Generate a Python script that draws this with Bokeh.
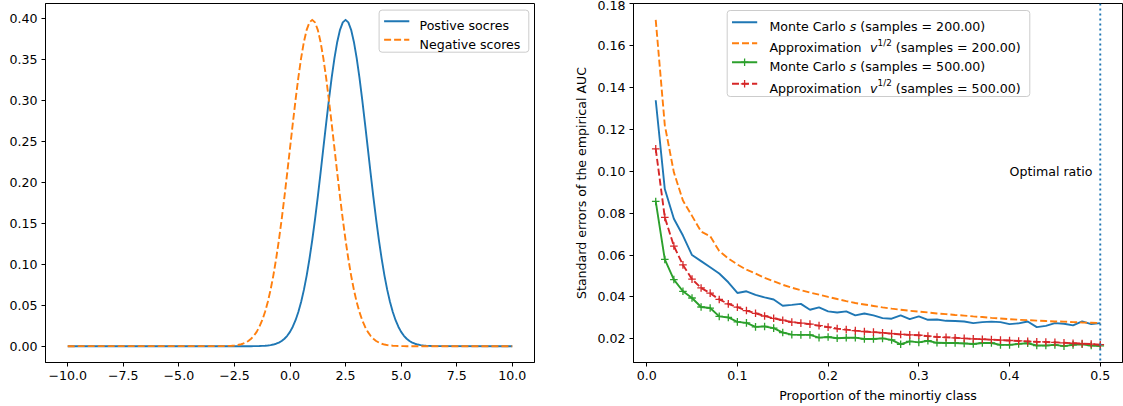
from bokeh.plotting import figure
from bokeh.layouts import row
from bokeh.models import Range1d, FixedTicker, Span, Label, BoxAnnotation
from bokeh.embed import file_html
from bokeh.resources import INLINE

# ---------------- data: left panel (score densities) ----------------
score_x = [-10.0,
           -3.0, -2.875, -2.75, -2.625, -2.5, -2.375, -2.25, -2.125,
           -2.0, -1.875, -1.75, -1.625, -1.5, -1.375, -1.25, -1.125,
           -1.0, -0.875, -0.75, -0.625, -0.5, -0.375, -0.25, -0.125,
           0.0, 0.125, 0.25, 0.375, 0.5, 0.625, 0.75, 0.875,
           1.0, 1.125, 1.25, 1.375, 1.5, 1.625, 1.75, 1.875,
           2.0, 2.125, 2.25, 2.375, 2.5, 2.625, 2.75, 2.875,
           3.0, 3.125, 3.25, 3.375, 3.5, 3.625, 3.75, 3.875,
           4.0, 4.125, 4.25, 4.375, 4.5, 4.625, 4.75, 4.875,
           5.0, 5.125, 5.25, 5.375, 5.5, 5.625, 5.75, 5.875,
           6.0, 6.125, 6.25, 6.375, 6.5,
           10.0]
positive_density = [0.0,
                    0.0, 0.0, 0.0, 0.0, 0.0, 0.0, 0.0, 0.0,
                    0.0, 0.0, 0.0, 0.0001, 0.0001, 0.0002, 0.0004, 0.0006,
                    0.0009, 0.0013, 0.0020, 0.0030, 0.0044, 0.0064, 0.0091, 0.0127,
                    0.0175, 0.0238, 0.0317, 0.0417, 0.0540, 0.0688, 0.0863, 0.1066,
                    0.1295, 0.1550, 0.1826, 0.2119, 0.2420, 0.2720, 0.3011, 0.3282,
                    0.3521, 0.3719, 0.3867, 0.3958, 0.3989, 0.3958, 0.3867, 0.3719,
                    0.3521, 0.3282, 0.3011, 0.2720, 0.2420, 0.2119, 0.1826, 0.1550,
                    0.1295, 0.1066, 0.0863, 0.0688, 0.0540, 0.0417, 0.0317, 0.0238,
                    0.0175, 0.0127, 0.0091, 0.0064, 0.0044, 0.0030, 0.0020, 0.0013,
                    0.0009, 0.0006, 0.0004, 0.0002, 0.0001,
                    0.0]
negative_density = [0.0,
                    0.0001, 0.0002, 0.0004, 0.0006, 0.0009, 0.0013, 0.0020, 0.0030,
                    0.0044, 0.0064, 0.0091, 0.0127, 0.0175, 0.0238, 0.0317, 0.0417,
                    0.0540, 0.0688, 0.0863, 0.1066, 0.1295, 0.1550, 0.1826, 0.2119,
                    0.2420, 0.2720, 0.3011, 0.3282, 0.3521, 0.3719, 0.3867, 0.3958,
                    0.3989, 0.3958, 0.3867, 0.3719, 0.3521, 0.3282, 0.3011, 0.2720,
                    0.2420, 0.2119, 0.1826, 0.1550, 0.1295, 0.1066, 0.0863, 0.0688,
                    0.0540, 0.0417, 0.0317, 0.0238, 0.0175, 0.0127, 0.0091, 0.0064,
                    0.0044, 0.0030, 0.0020, 0.0013, 0.0009, 0.0006, 0.0004, 0.0002,
                    0.0001, 0.0001, 0.0, 0.0, 0.0, 0.0, 0.0, 0.0,
                    0.0, 0.0, 0.0, 0.0, 0.0,
                    0.0]
left_names = ["Postive socres", "Negative scores"]
left_xticks = [-10.0, -7.5, -5.0, -2.5, 0.0, 2.5, 5.0, 7.5, 10.0]
left_xlabels = ["\u221210.0", "\u22127.5", "\u22125.0", "\u22122.5", "0.0", "2.5", "5.0", "7.5", "10.0"]
left_yticks = [0.0, 0.05, 0.10, 0.15, 0.20, 0.25, 0.30, 0.35, 0.40]
left_ylabels = ["0.00", "0.05", "0.10", "0.15", "0.20", "0.25", "0.30", "0.35", "0.40"]

# ---------------- data: right panel (standard errors) ----------------
proportion = [0.01, 0.02, 0.03, 0.04, 0.05, 0.06, 0.07, 0.08, 0.09, 0.10,
              0.11, 0.12, 0.13, 0.14, 0.15, 0.16, 0.17, 0.18, 0.19, 0.20,
              0.21, 0.22, 0.23, 0.24, 0.25, 0.26, 0.27, 0.28, 0.29, 0.30,
              0.31, 0.32, 0.33, 0.34, 0.35, 0.36, 0.37, 0.38, 0.39, 0.40,
              0.41, 0.42, 0.43, 0.44, 0.45, 0.46, 0.47, 0.48, 0.49, 0.50]
mc_200 = [0.1339, 0.0915, 0.0773, 0.0693, 0.0600, 0.0571, 0.0542, 0.0512, 0.0470, 0.0419,
          0.0427, 0.0410, 0.0398, 0.0388, 0.0358, 0.0362, 0.0367, 0.0339, 0.0350, 0.0331,
          0.0326, 0.0331, 0.0312, 0.0321, 0.0312, 0.0299, 0.0296, 0.0312, 0.0294, 0.0307,
          0.0291, 0.0292, 0.0286, 0.0285, 0.0283, 0.0275, 0.0280, 0.0282, 0.0280, 0.0270,
          0.0274, 0.0283, 0.0256, 0.0262, 0.0275, 0.0272, 0.0264, 0.0283, 0.0270, 0.0275]
approx_200 = [0.1723, 0.1220, 0.0995, 0.0860, 0.0787, 0.0712, 0.0690, 0.0619, 0.0584, 0.0555,
              0.0530, 0.0512, 0.0491, 0.0475, 0.0458, 0.0444, 0.0432, 0.0421, 0.0411, 0.0400,
              0.0390, 0.0380, 0.0371, 0.0364, 0.0357, 0.0350, 0.0344, 0.0339, 0.0334, 0.0330,
              0.0326, 0.0321, 0.0318, 0.0314, 0.0311, 0.0307, 0.0304, 0.0300, 0.0297, 0.0294,
              0.0291, 0.0289, 0.0287, 0.0285, 0.0283, 0.0282, 0.0280, 0.0278, 0.0277, 0.0276]
mc_500 = [0.0856, 0.0579, 0.0483, 0.0427, 0.0395, 0.0352, 0.0347, 0.0307, 0.0302, 0.0281,
          0.0276, 0.0257, 0.0259, 0.0251, 0.0230, 0.0220, 0.0219, 0.0219, 0.0206, 0.0209,
          0.0203, 0.0205, 0.0206, 0.0199, 0.0199, 0.0202, 0.0195, 0.0174, 0.0188, 0.0183,
          0.0191, 0.0181, 0.0180, 0.0180, 0.0178, 0.0175, 0.0180, 0.0180, 0.0171, 0.0171,
          0.0176, 0.0179, 0.0168, 0.0168, 0.0171, 0.0165, 0.0171, 0.0174, 0.0168, 0.0166]
approx_500 = [0.1107, 0.0780, 0.0643, 0.0553, 0.0485, 0.0443, 0.0418, 0.0388, 0.0367, 0.0351,
              0.0335, 0.0322, 0.0309, 0.0298, 0.0289, 0.0280, 0.0275, 0.0270, 0.0263, 0.0256,
              0.0249, 0.0244, 0.0239, 0.0235, 0.0232, 0.0229, 0.0225, 0.0221, 0.0219, 0.0217,
              0.0213, 0.0209, 0.0207, 0.0205, 0.0202, 0.0200, 0.0198, 0.0196, 0.0194, 0.0192,
              0.0190, 0.0188, 0.0186, 0.0185, 0.0183, 0.0181, 0.0179, 0.0177, 0.0175, 0.0172]
sample_sizes = [200, 500]
optimal_ratio = 0.5
right_xticks = [0.0, 0.1, 0.2, 0.3, 0.4, 0.5]
right_xlabels = ["0.0", "0.1", "0.2", "0.3", "0.4", "0.5"]
right_yticks = [0.02, 0.04, 0.06, 0.08, 0.10, 0.12, 0.14, 0.16, 0.18]
right_ylabels = ["0.02", "0.04", "0.06", "0.08", "0.10", "0.12", "0.14", "0.16", "0.18"]

# ---------------- styling ----------------
FONT = "DejaVu Sans"
FS = "12.6px"
SUP_FS = "8.8px"
BLUE, ORANGE, GREEN, RED = "#1f77b4", "#ff7f0e", "#2ca02c", "#d62728"
LW = 1.9
DASH = "7 3"
DOT = "2 3"


def style(p):
    p.outline_line_color = "black"
    p.outline_line_width = 1
    p.outline_line_alpha = 1
    p.xgrid.visible = False
    p.ygrid.visible = False
    p.background_fill_color = "white"
    p.border_fill_color = "white"
    for ax in (p.xaxis[0], p.yaxis[0]):
        ax.major_label_text_font = FONT
        ax.major_label_text_font_size = FS
        ax.major_label_text_color = "black"
        ax.axis_label_text_font = FONT
        ax.axis_label_text_font_size = FS
        ax.axis_label_text_font_style = "normal"
        ax.axis_label_text_color = "black"
        ax.major_tick_in = 0
        ax.major_tick_out = 4
        ax.major_tick_line_color = "black"
        ax.major_tick_line_width = 1
        ax.minor_tick_line_color = None
        ax.axis_line_color = "black"
        ax.axis_line_width = 1
        ax.major_label_standoff = 4
        ax.axis_label_standoff = 5


def make_conv(FL, FT, FW, FH, x0, x1, y0, y1):
    def conv(px, py):
        return x0 + (px - FL) / FW * (x1 - x0), y1 - (py - FT) / FH * (y1 - y0)
    return conv


def label(p, conv, px, py, text, size=FS, style_="normal"):
    x, y = conv(px, py)
    p.add_layout(Label(x=x, y=y, text=text, text_font=FONT, text_font_size=size,
                       text_font_style=style_, text_color="black",
                       text_align="left", text_baseline="alphabetic"))


def legend_box(p, conv, l, t, r, b):
    x0, y0 = conv(l, b)
    x1, y1 = conv(r, t)
    p.add_layout(BoxAnnotation(left=x0, right=x1, bottom=y0, top=y1,
                               fill_color="white", fill_alpha=0.8,
                               line_color="#cccccc", line_width=1, line_alpha=1,
                               border_radius=3, level="underlay"))


def swatch(p, conv, l, r, py, color, dash="solid", marker=False):
    xa, y = conv(l, py)
    xb, _ = conv(r, py)
    p.line([xa, xb], [y, y], line_color=color, line_width=LW, line_dash=dash)
    if marker:
        p.scatter([(xa + xb) / 2], [y], marker="cross", size=7.6,
                  line_color=color, line_width=1.3)


# ---------------- left panel ----------------
LX = (-11.0, 11.0)
LY = (-0.01995, 0.41889)
p1 = figure(width=560, height=406, x_range=Range1d(*LX), y_range=Range1d(*LY),
            min_border_left=45, min_border_right=26, min_border_top=3, min_border_bottom=44,
            output_backend="svg", toolbar_location=None)
style(p1)
p1.xaxis[0].ticker = FixedTicker(ticks=left_xticks)
p1.xaxis[0].major_label_overrides = dict(zip(left_xticks, left_xlabels))
p1.yaxis[0].ticker = FixedTicker(ticks=left_yticks)
p1.yaxis[0].major_label_overrides = dict(zip(left_yticks, left_ylabels))

p1.line(score_x, positive_density, line_color=BLUE, line_width=LW, line_join="round")
p1.line(score_x, negative_density, line_color=ORANGE, line_width=LW, line_dash=DASH,
        line_join="round")

c1 = make_conv(45, 3, 489, 359, LX[0], LX[1], LY[0], LY[1])
legend_box(p1, c1, 378.6, 9.6, 528.3, 51.7)
swatch(p1, c1, 383.6, 408.8, 20.7, BLUE)
swatch(p1, c1, 383.6, 408.8, 39.3, ORANGE, DASH)
label(p1, c1, 419.0, 25.3, left_names[0])
label(p1, c1, 419.0, 43.9, left_names[1])

# ---------------- right panel ----------------
RX = (-0.0145, 0.5245)
RY = (0.0087, 0.1801)
p2 = figure(width=563, height=406, x_range=Range1d(*RX), y_range=Range1d(*RY),
            min_border_left=73, min_border_right=1, min_border_top=3, min_border_bottom=44,
            output_backend="svg", toolbar_location=None,
            x_axis_label="Proportion of the minortiy class",
            y_axis_label="Standard errors of the empirical AUC")
style(p2)
p2.xaxis[0].ticker = FixedTicker(ticks=right_xticks)
p2.xaxis[0].major_label_overrides = dict(zip(right_xticks, right_xlabels))
p2.yaxis[0].ticker = FixedTicker(ticks=right_yticks)
p2.yaxis[0].major_label_overrides = dict(zip(right_yticks, right_ylabels))

p2.line(proportion, mc_200, line_color=BLUE, line_width=LW)
p2.line(proportion, approx_200, line_color=ORANGE, line_width=LW, line_dash=DASH)
p2.line(proportion, mc_500, line_color=GREEN, line_width=LW)
p2.scatter(proportion, mc_500, marker="cross", size=7.6, line_color=GREEN, line_width=1.3)
p2.line(proportion, approx_500, line_color=RED, line_width=LW, line_dash=DASH)
p2.scatter(proportion, approx_500, marker="cross", size=7.6, line_color=RED, line_width=1.3)

p2.add_layout(Span(location=optimal_ratio, dimension="height", line_color=BLUE,
                   line_width=LW, line_dash=DOT))
p2.add_layout(Label(x=0.4, y=0.1, text="Optimal ratio", text_font=FONT, text_font_size=FS,
                    text_color="black", text_align="left", text_baseline="alphabetic"))

c2 = make_conv(633, 3, 489, 359, RX[0], RX[1], RY[0], RY[1])
legend_box(p2, c2, 726.7, 10.0, 1029.3, 96.0)
rows_y = [21.7, 42.7, 61.7, 83.3]
SP = 4.0  # width of a space at 12.6px
swatch(p2, c2, 731.5, 756.7, rows_y[0], BLUE)
swatch(p2, c2, 731.5, 756.7, rows_y[1], ORANGE, DASH)
swatch(p2, c2, 731.5, 756.7, rows_y[2], GREEN, marker=True)
swatch(p2, c2, 731.5, 756.7, rows_y[3], RED, DASH, marker=True)
TX = 769.0
for i, n in enumerate(sample_sizes):
    suffix = "(samples = %.2f)" % n
    # Monte Carlo row
    yb = rows_y[2 * i] + 4.6
    label(p2, c2, TX, yb, "Monte Carlo")
    label(p2, c2, TX + 80.2, yb, "s", style_="italic")
    label(p2, c2, TX + 80.2 + 6.6 + SP, yb, suffix)
    # Approximation row
    yb = rows_y[2 * i + 1] + 4.6
    label(p2, c2, TX, yb, "Approximation")
    label(p2, c2, TX + 100.6, yb, "v", style_="italic")
    label(p2, c2, TX + 100.6 + 7.5, yb - 5.0, "1/2", size=SUP_FS)
    label(p2, c2, TX + 100.6 + 7.5 + 14.2 + SP, yb, suffix)

layout = row(p1, p2)
open("out.html", "w").write(file_html(layout, INLINE))
